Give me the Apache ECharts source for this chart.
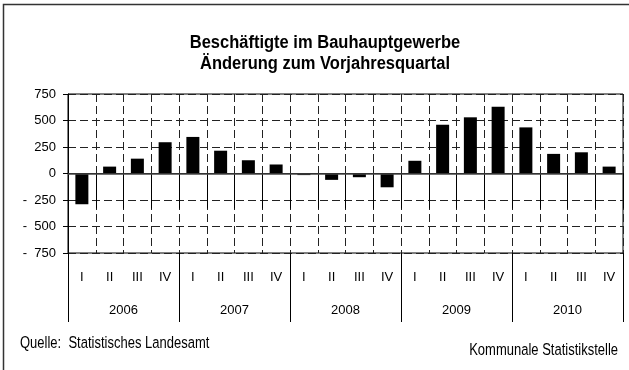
<!DOCTYPE html>
<html>
<head>
<meta charset="utf-8">
<script src="https://cdn.jsdelivr.net/npm/echarts@6/dist/echarts.min.js"></script>
<style>
  html, body { margin: 0; padding: 0; background: #fff; }
  #chart { width: 629px; height: 370px; }
</style>
</head>
<body>
<div id="chart"></div>
<script>
// Quarterly change in construction employment vs. the same quarter of the previous year
const years = ['2006', '2007', '2008', '2009', '2010'];
const quarters = ['I', 'II', 'III', 'IV'];
const quarterLabels = years.flatMap(() => quarters);
const changes = [
  -290, 65, 140, 295,
  345, 215, 125, 85,
  -15, -60, -35, -130,
  120, 460, 530, 630,
  435, 185, 200, 65
];
const yTicks = { min: -750, max: 750, step: 250 };

const FONT = '"Liberation Sans", Arial, sans-serif';
const chart = echarts.init(document.getElementById('chart'), null, { renderer: 'canvas' });

chart.setOption({
  animation: false,
  backgroundColor: '#fff',
  grid: {
    left: 68, right: 6, top: 94, bottom: 117,
    show: true, borderColor: '#000', borderWidth: 1, backgroundColor: 'transparent'
  },
  graphic: [
    {
      type: 'rect', silent: true, z: 0,
      shape: { x: 3.5, y: 4.5, width: 800, height: 600 },
      style: { fill: 'none', stroke: '#333', lineWidth: 1.5 }
    },
    {
      type: 'text', z: 10, x: 325, y: 43, scaleY: 1.1,
      style: {
        text: 'Beschäftigte im Bauhauptgewerbe',
        font: 'bold 16.5px ' + FONT, fill: '#000', textAlign: 'center', textVerticalAlign: 'middle'
      }
    },
    {
      type: 'text', z: 10, x: 325, y: 64, scaleY: 1.1,
      style: {
        text: 'Änderung zum Vorjahresquartal',
        font: 'bold 16.5px ' + FONT, fill: '#000', textAlign: 'center', textVerticalAlign: 'middle'
      }
    },
    {
      type: 'text', z: 10, x: 20, y: 343, scaleY: 1.3,
      style: { text: 'Quelle:  Statistisches Landesamt', font: '13px ' + FONT, fill: '#000', textVerticalAlign: 'middle' }
    },
    {
      type: 'text', z: 10, x: 618, y: 350, scaleY: 1.3,
      style: { text: 'Kommunale Statistikstelle', font: '13px ' + FONT, fill: '#000', textAlign: 'right', textVerticalAlign: 'middle' }
    }
  ],
  xAxis: [
    {
      type: 'category',
      data: quarterLabels,
      position: 'bottom',
      boundaryGap: true,
      axisLine: { show: true, lineStyle: { color: '#000', width: 1 } },
      axisTick: { show: true, interval: 0, length: 35, lineStyle: { color: '#000', width: 1 } },
      axisLabel: { interval: 0, margin: 18, color: '#000', fontSize: 13, fontFamily: FONT },
      splitLine: { show: true, interval: 0, lineStyle: { color: '#222', type: [8, 4], width: 1 } }
    },
    {
      type: 'category',
      data: years,
      position: 'bottom',
      boundaryGap: true,
      axisLine: { show: false },
      axisTick: { show: true, interval: 0, length: 69, lineStyle: { color: '#000', width: 1 } },
      axisLabel: { interval: 0, margin: 51, color: '#000', fontSize: 13, fontFamily: FONT },
      splitLine: { show: false }
    }
  ],
  yAxis: {
    type: 'value',
    min: yTicks.min, max: yTicks.max, interval: yTicks.step,
    axisLine: { show: true, lineStyle: { color: '#000', width: 1 } },
    axisTick: { show: true, length: 5, lineStyle: { color: '#000' } },
    axisLabel: {
      margin: 12, color: '#000', fontSize: 13, fontFamily: FONT,
      formatter: v => (v < 0 ? '-  ' + (-v) : String(v))
    },
    splitLine: { show: true, lineStyle: { color: '#222', type: [8, 4], width: 1 } }
  },
  series: [{
    type: 'bar',
    data: changes,
    xAxisIndex: 0,
    barWidth: 13,
    itemStyle: { color: '#000' },
    markLine: {
      silent: true, symbol: 'none', animation: false,
      label: { show: false },
      lineStyle: { color: '#444', type: 'solid', width: 1.5 },
      data: [{ yAxis: 0 }]
    }
  }]
});
</script>
</body>
</html>
